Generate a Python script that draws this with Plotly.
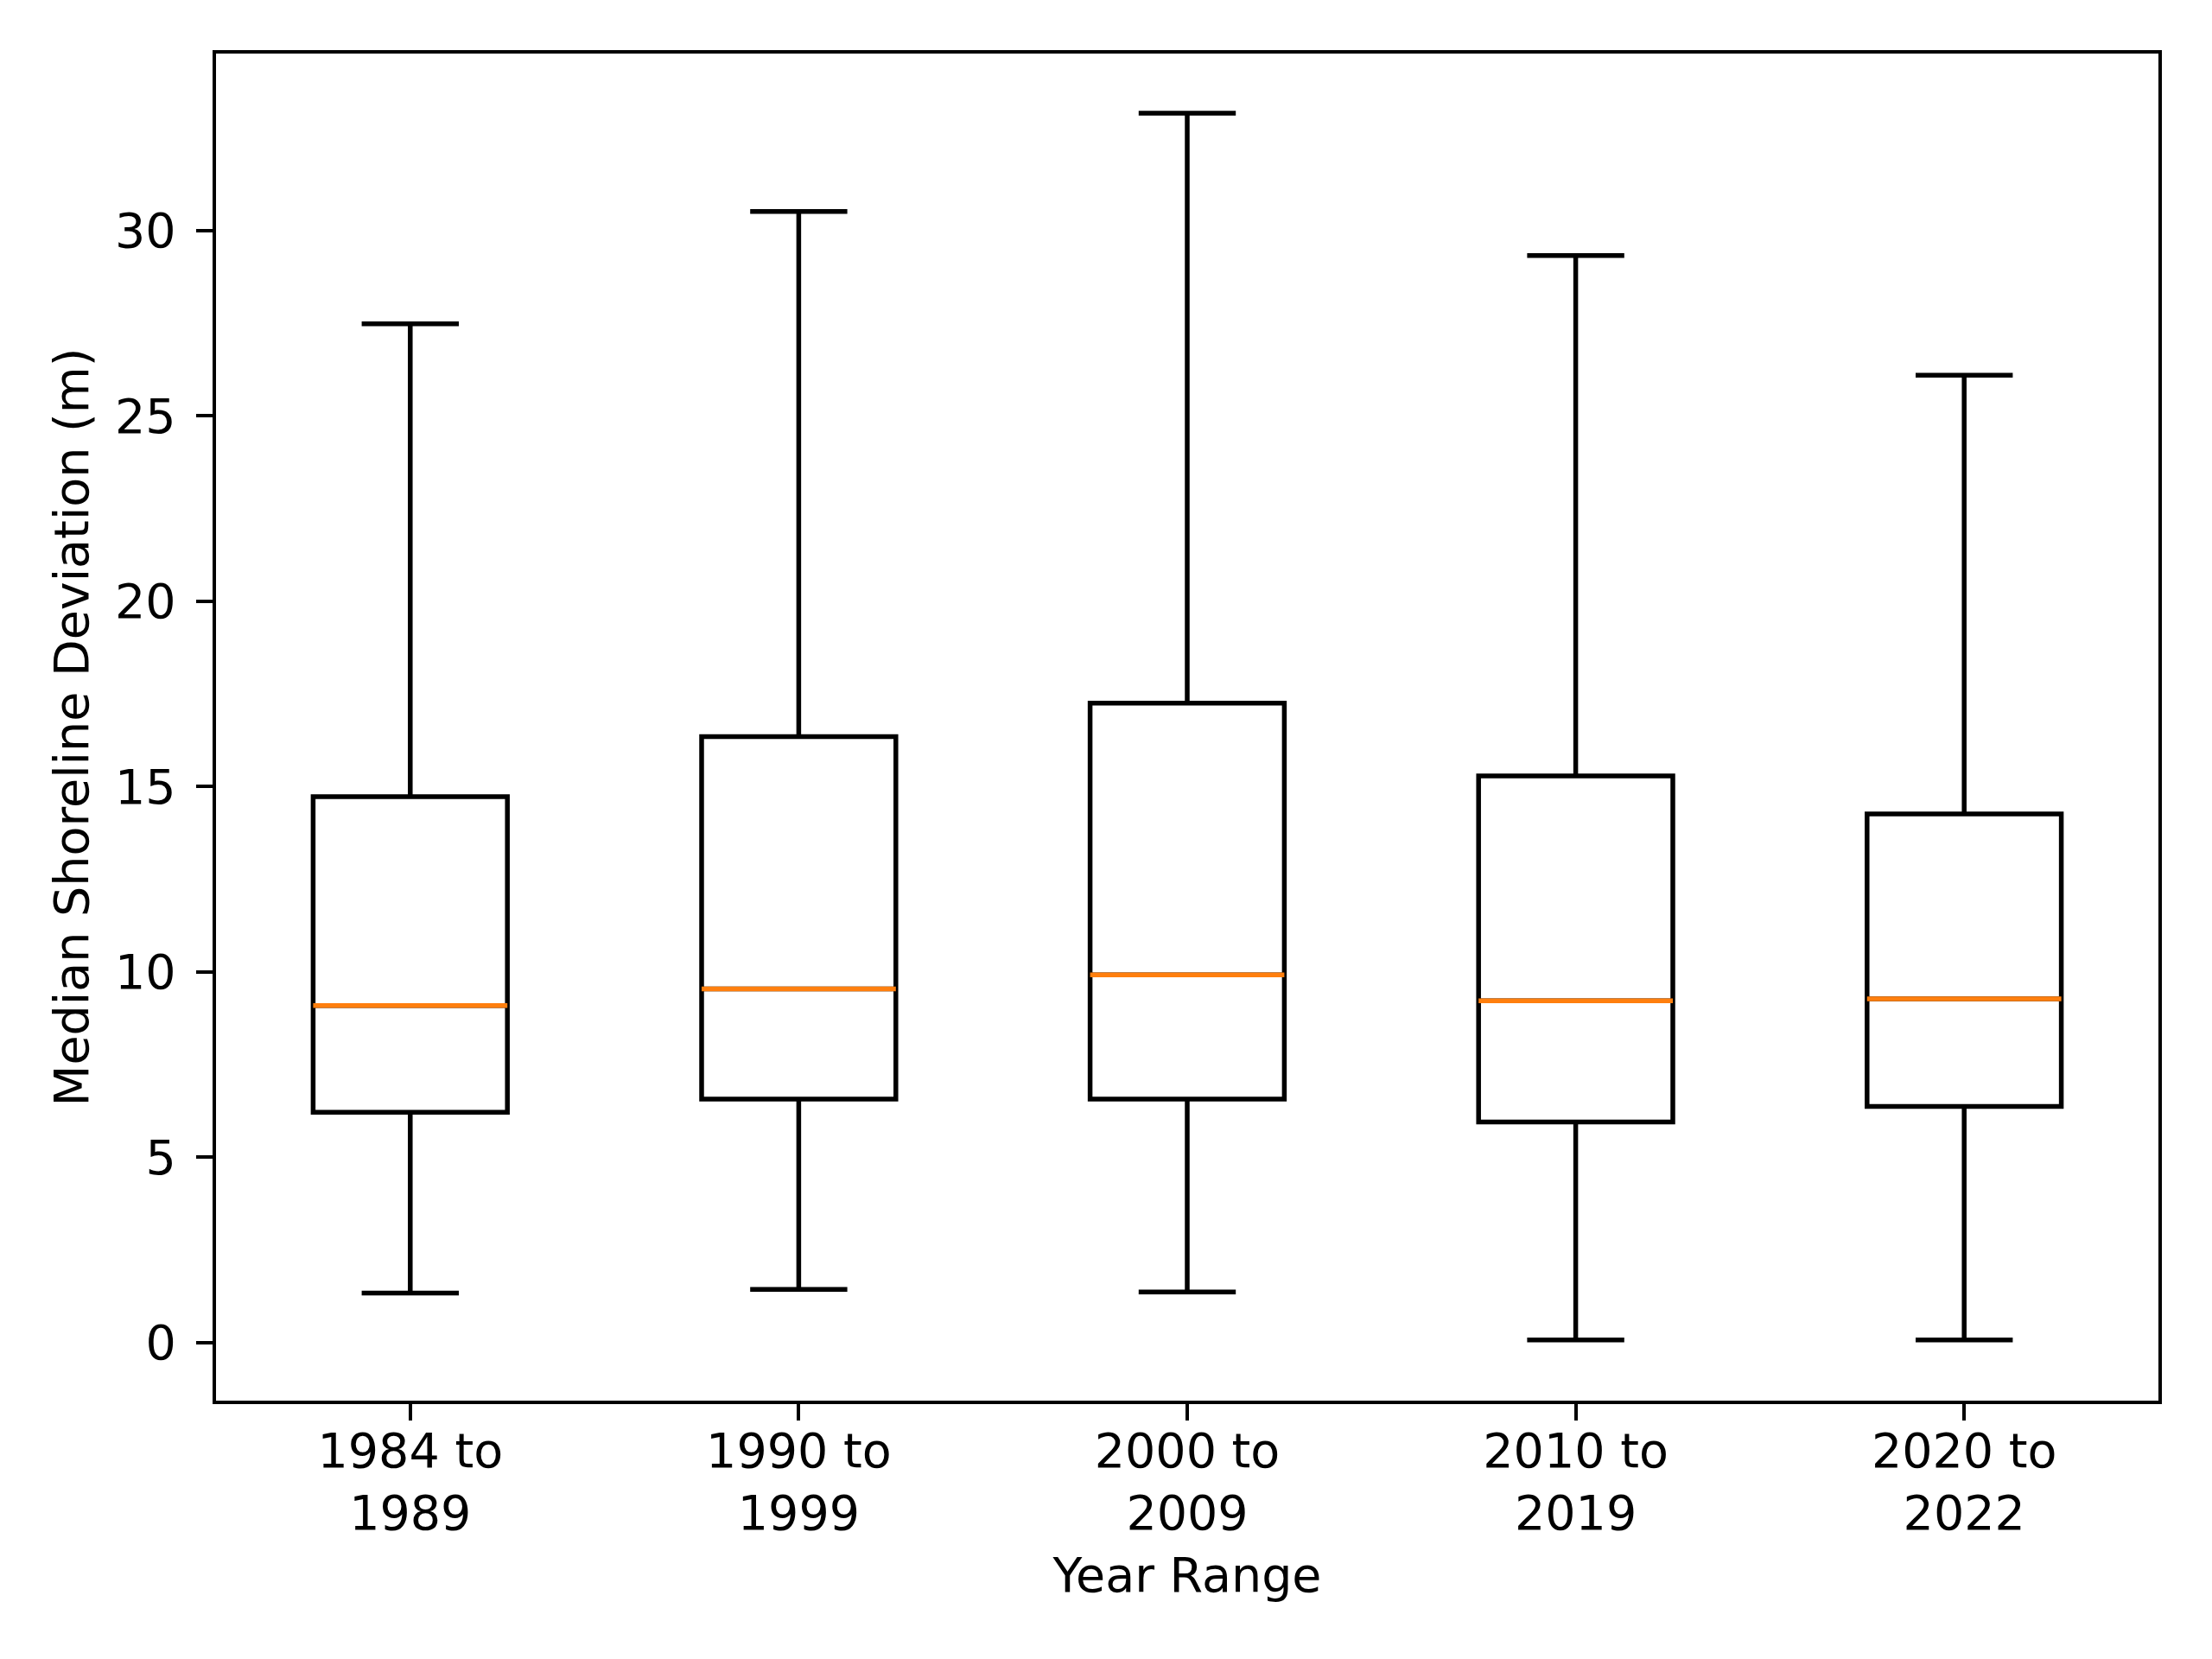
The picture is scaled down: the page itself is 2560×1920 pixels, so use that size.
import plotly.graph_objects as go

categories = ["1984 to<br>1989", "1990 to<br>1999", "2000 to<br>2009", "2010 to<br>2019", "2020 to<br>2022"]
positions = [1, 2, 3, 4, 5]
lower_whisker = [1.33, 1.43, 1.36, 0.07, 0.07]
q1 = [6.21, 6.57, 6.57, 5.95, 6.37]
median = [9.09, 9.54, 9.92, 9.22, 9.27]
q3 = [14.73, 16.35, 17.25, 15.29, 14.26]
upper_whisker = [27.49, 30.52, 33.17, 29.33, 26.10]
y_ticks = [0, 5, 10, 15, 20, 25, 30]

BOX_W = 0.5
LW = 5.5
AXLW = 4.4
FONT = "DejaVu Sans"
FS = 55.5

fig = go.Figure()
for i in range(len(positions)):
    fig.add_trace(go.Box(
        x=[positions[i]],
        q1=[q1[i]], median=[median[i]], q3=[q3[i]],
        lowerfence=[lower_whisker[i]], upperfence=[upper_whisker[i]],
        width=BOX_W, whiskerwidth=0.5,
        line=dict(color="black", width=LW),
        fillcolor="rgba(0,0,0,0)",
        boxpoints=False, showlegend=False, hoverinfo="skip",
    ))
for i in range(len(positions)):
    fig.add_trace(go.Scatter(
        x=[positions[i] - BOX_W / 2, positions[i] + BOX_W / 2],
        y=[median[i], median[i]],
        mode="lines", line=dict(color="#ff7f0e", width=LW),
        showlegend=False, hoverinfo="skip",
    ))

fig.update_layout(
    width=2560, height=1920,
    margin=dict(l=242, r=70, t=54, b=307),
    plot_bgcolor="white", paper_bgcolor="white",
    font=dict(family=FONT, size=FS, color="black"),
    showlegend=False,
)
fig.update_xaxes(
    range=[0.5, 5.5], tickmode="array", tickvals=positions, ticktext=categories,
    showgrid=False, zeroline=False, showline=True, mirror=True,
    linecolor="black", linewidth=AXLW,
    ticks="outside", ticklen=19, tickwidth=AXLW, tickcolor="black",
    ticklabelstandoff=-13,
    title=dict(text="Year Range", font=dict(family=FONT, size=FS), standoff=22),
)
fig.update_yaxes(
    range=[-1.57, 34.78], tickmode="array", tickvals=y_ticks,
    ticktext=[str(v) for v in y_ticks],
    showgrid=False, zeroline=False, showline=True, mirror=True,
    linecolor="black", linewidth=AXLW,
    ticks="outside", ticklen=19, tickwidth=AXLW, tickcolor="black",
    ticklabelstandoff=12,
    title=dict(text="Median Shoreline Deviation (m)", font=dict(family=FONT, size=FS), standoff=14),
)
fig.write_html("out.html")
